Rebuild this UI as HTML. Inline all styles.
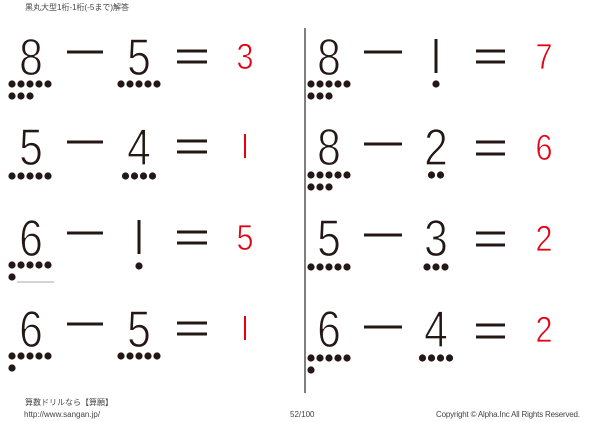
<!DOCTYPE html>
<html><head><meta charset="utf-8"><style>
html,body{margin:0;padding:0;background:#fff;width:600px;height:422px;overflow:hidden}
svg{display:block}
.d{font-family:"Liberation Sans",sans-serif;font-size:52px;fill:#231815;text-anchor:middle;stroke:#fff;stroke-width:1.2px;paint-order:normal;transform-box:fill-box;transform-origin:center;transform:scaleX(0.82)}
.a{font-family:"Liberation Sans",sans-serif;font-size:36px;fill:#e60012;text-anchor:middle;stroke:#fff;stroke-width:0.8px;transform-box:fill-box;transform-origin:center;transform:scaleX(0.85)}
.s{font-family:"Liberation Sans","Noto Sans CJK JP",sans-serif;font-size:8px;fill:#444}
line{stroke:#231815;stroke-width:3}
circle{fill:#231815}
</style></head><body>
<svg width="600" height="422" viewBox="0 0 600 422">
<text class="s" x="25" y="10">黒丸大型1桁-1桁(-5まで)解答</text>
<line x1="305" y1="28" x2="305" y2="393" style="stroke:#555;stroke-width:1.5"/>

<text class="d" x="31" y="75">8</text>
<g><circle cx="12" cy="84" r="3.6"/><circle cx="21" cy="84" r="3.6"/><circle cx="30" cy="84" r="3.6"/><circle cx="39" cy="84" r="3.6"/><circle cx="48" cy="84" r="3.6"/>
<circle cx="12" cy="96" r="3.6"/><circle cx="21" cy="96" r="3.6"/><circle cx="30" cy="96" r="3.6"/></g>
<line x1="67" y1="52" x2="103" y2="52"/>
<text class="d" x="139" y="75">5</text>
<circle cx="121" cy="84" r="3.6"/><circle cx="130" cy="84" r="3.6"/><circle cx="139" cy="84" r="3.6"/><circle cx="148" cy="84" r="3.6"/><circle cx="157" cy="84" r="3.6"/>
<line x1="177" y1="51" x2="207" y2="51"/><line x1="177" y1="62" x2="207" y2="62"/>
<text class="a" x="245" y="69">3</text>

<text class="d" x="31" y="165">5</text>
<circle cx="12" cy="176" r="3.6"/><circle cx="21" cy="176" r="3.6"/><circle cx="30" cy="176" r="3.6"/><circle cx="39" cy="176" r="3.6"/><circle cx="48" cy="176" r="3.6"/>
<line x1="67" y1="142" x2="103" y2="142"/>
<text class="d" x="139" y="165">4</text>
<circle cx="125.5" cy="176" r="3.6"/><circle cx="134.5" cy="176" r="3.6"/><circle cx="143.5" cy="176" r="3.6"/><circle cx="152.5" cy="176" r="3.6"/>
<line x1="177" y1="141" x2="207" y2="141"/><line x1="177" y1="152" x2="207" y2="152"/>
<line x1="245" y1="134" x2="245" y2="158" style="stroke:#e60012;stroke-width:2"/>

<text class="d" x="31" y="256">6</text>
<circle cx="12" cy="265" r="3.6"/><circle cx="21" cy="265" r="3.6"/><circle cx="30" cy="265" r="3.6"/><circle cx="39" cy="265" r="3.6"/><circle cx="48" cy="265" r="3.6"/>
<circle cx="12" cy="277" r="3.6"/>
<line x1="17" y1="282" x2="54" y2="282" style="stroke:#aaa;stroke-width:1"/>
<line x1="67" y1="233" x2="103" y2="233"/>
<line x1="139" y1="220" x2="139" y2="254"/><circle cx="139" cy="266" r="3.6"/>
<line x1="177" y1="232" x2="207" y2="232"/><line x1="177" y1="243" x2="207" y2="243"/>
<text class="a" x="245" y="250">5</text>

<text class="d" x="31" y="347">6</text>
<circle cx="12" cy="356" r="3.6"/><circle cx="21" cy="356" r="3.6"/><circle cx="30" cy="356" r="3.6"/><circle cx="39" cy="356" r="3.6"/><circle cx="48" cy="356" r="3.6"/>
<circle cx="12" cy="368" r="3.6"/>
<line x1="67" y1="324" x2="103" y2="324"/>
<text class="d" x="139" y="347">5</text>
<circle cx="121" cy="356" r="3.6"/><circle cx="130" cy="356" r="3.6"/><circle cx="139" cy="356" r="3.6"/><circle cx="148" cy="356" r="3.6"/><circle cx="157" cy="356" r="3.6"/>
<line x1="177" y1="323" x2="207" y2="323"/><line x1="177" y1="334" x2="207" y2="334"/>
<line x1="245" y1="316" x2="245" y2="340" style="stroke:#e60012;stroke-width:2"/>

<text class="d" x="329" y="75">8</text>
<circle cx="311" cy="84" r="3.6"/><circle cx="320" cy="84" r="3.6"/><circle cx="329" cy="84" r="3.6"/><circle cx="338" cy="84" r="3.6"/><circle cx="347" cy="84" r="3.6"/>
<circle cx="311" cy="96" r="3.6"/><circle cx="320" cy="96" r="3.6"/><circle cx="329" cy="96" r="3.6"/>
<line x1="364" y1="52" x2="402" y2="52"/>
<line x1="436" y1="39" x2="436" y2="73"/><circle cx="436" cy="84" r="3.6"/>
<line x1="476" y1="51" x2="505" y2="51"/><line x1="476" y1="62" x2="505" y2="62"/>
<text class="a" x="544" y="69">7</text>

<text class="d" x="329" y="165">8</text>
<circle cx="311" cy="175" r="3.6"/><circle cx="320" cy="175" r="3.6"/><circle cx="329" cy="175" r="3.6"/><circle cx="338" cy="175" r="3.6"/><circle cx="347" cy="175" r="3.6"/>
<circle cx="311" cy="187" r="3.6"/><circle cx="320" cy="187" r="3.6"/><circle cx="329" cy="187" r="3.6"/>
<line x1="364" y1="144" x2="402" y2="144"/>
<text class="d" x="436" y="165">2</text>
<circle cx="431.5" cy="175" r="3.6"/><circle cx="440.5" cy="175" r="3.6"/>
<line x1="476" y1="142" x2="505" y2="142"/><line x1="476" y1="154" x2="505" y2="154"/>
<text class="a" x="544" y="160">6</text>

<text class="d" x="329" y="256">5</text>
<circle cx="311" cy="267" r="3.6"/><circle cx="320" cy="267" r="3.6"/><circle cx="329" cy="267" r="3.6"/><circle cx="338" cy="267" r="3.6"/><circle cx="347" cy="267" r="3.6"/>
<line x1="364" y1="235" x2="402" y2="235"/>
<text class="d" x="436" y="256">3</text>
<circle cx="427" cy="267" r="3.6"/><circle cx="436" cy="267" r="3.6"/><circle cx="445" cy="267" r="3.6"/>
<line x1="476" y1="233" x2="505" y2="233"/><line x1="476" y1="245" x2="505" y2="245"/>
<text class="a" x="544" y="251">2</text>

<text class="d" x="329" y="347">6</text>
<circle cx="311" cy="358" r="3.6"/><circle cx="320" cy="358" r="3.6"/><circle cx="329" cy="358" r="3.6"/><circle cx="338" cy="358" r="3.6"/><circle cx="347" cy="358" r="3.6"/>
<circle cx="311" cy="370" r="3.6"/>
<line x1="364" y1="327" x2="402" y2="327"/>
<text class="d" x="436" y="347">4</text>
<circle cx="422.5" cy="358" r="3.6"/><circle cx="431.5" cy="358" r="3.6"/><circle cx="440.5" cy="358" r="3.6"/><circle cx="449.5" cy="358" r="3.6"/>
<line x1="476" y1="325" x2="505" y2="325"/><line x1="476" y1="337" x2="505" y2="337"/>
<text class="a" x="544" y="342">2</text>

<text class="s" x="25" y="405">算数ドリルなら【算願】</text>
<text class="s" x="24" y="417">http://www.sangan.jp/</text>
<text class="s" x="290" y="417">52/100</text>
<text class="s" x="436" y="417" textLength="144">Copyright © Alpha.Inc All Rights Reserved.</text>
</svg>
</body></html>
